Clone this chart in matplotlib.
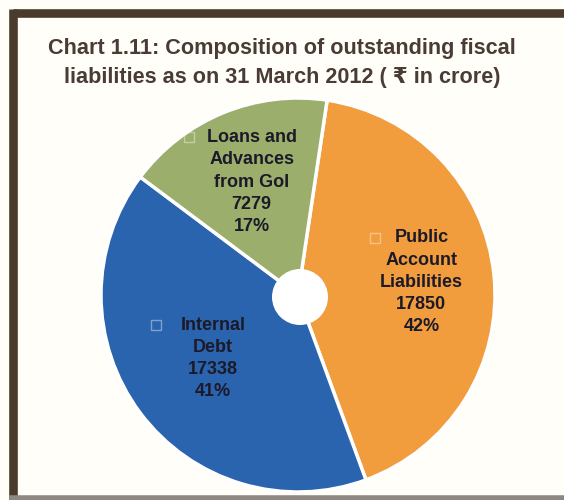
import numpy as np
import matplotlib
matplotlib.use("Agg")
import matplotlib.pyplot as plt
from matplotlib.patches import Circle
from matplotlib.lines import Line2D

# data
labels = ["Public\nAccount\nLiabilities", "Internal\nDebt", "Loans and\nAdvances\nfrom GoI"]
values = [17850, 17338, 7279]
colors = ["#F19D3E", "#2A63AE", "#9CAE6B"]
label_r = [0.62, 0.53, 0.61]

title = "Chart 1.11: Composition of outstanding fiscal\nliabilities as on 31 March 2012 ( \u20b9 in crore)"

plt.rcParams["font.family"] = ["Liberation Sans", "DejaVu Sans"]

W, H = 564, 500
fig = plt.figure(figsize=(W / 100, H / 100), dpi=100)
fig.patch.set_facecolor("#FFFEF8")

# frame (top / left brown, bottom greyish)
def px(x, y):
    return x / W, 1 - y / H

fig.add_artist(Line2D(*zip(px(12.5, 12.5), px(580, 12.5)), color="#4B3A2E", lw=6.2,
                      transform=fig.transFigure, solid_capstyle="butt"))
fig.add_artist(Line2D(*zip(px(12.5, 9), px(12.5, 497)), color="#4B3A2E", lw=6.2,
                      transform=fig.transFigure, solid_capstyle="butt"))
fig.add_artist(Line2D(*zip(px(9, 497.5), px(580, 497.5)), color="#8E8882", lw=4,
                      transform=fig.transFigure, solid_capstyle="butt"))

fig.text(0.5, 1 - 63 / H, title, ha="center", va="center", fontsize=15.6,
         fontweight="bold", color="#4A3B35", linespacing=1.45)

# pie axes: centre (298, 295) px, radius 197 px
cx, cy, half = 298, 295, 200
ax = fig.add_axes([(cx - half) / W, (H - cy - half) / H, 2 * half / W, 2 * half / H])
ax.axis("off")

total = sum(values)
wedges, _ = ax.pie(values, colors=colors, radius=0.985, startangle=81.5,
                   counterclock=False,
                   wedgeprops=dict(edgecolor="white", linewidth=2.5))
ax.set_xlim(-1, 1)
ax.set_ylim(-1, 1)
ax.set_aspect("equal")

for w, lab, v, r in zip(wedges, labels, values, label_r):
    mid = np.deg2rad((w.theta1 + w.theta2) / 2)
    x, y = r * np.cos(mid), r * np.sin(mid)
    txt = f"{lab}\n{v}\n{round(100 * v / total)}%"
    ax.text(x, y, txt, ha="center", va="center", fontsize=13, fontweight="bold",
            color="#1C1A28", linespacing=1.4)
    # faint legend key square before the first line
    nlines = txt.count("\n") + 1
    first = lab.split("\n")[0]
    ky = y + (nlines - 1) / 2 * 0.112
    kx = x - len(first) * 0.027 - 0.07
    ax.plot(kx, ky, marker="s", ms=7, mfc="none", mec="white", alpha=0.4, mew=1)

ax.add_patch(Circle((0.01, -0.01), 0.14, facecolor="white", edgecolor="none", zorder=5))

fig.savefig("out.png", dpi=100, facecolor=fig.get_facecolor())
